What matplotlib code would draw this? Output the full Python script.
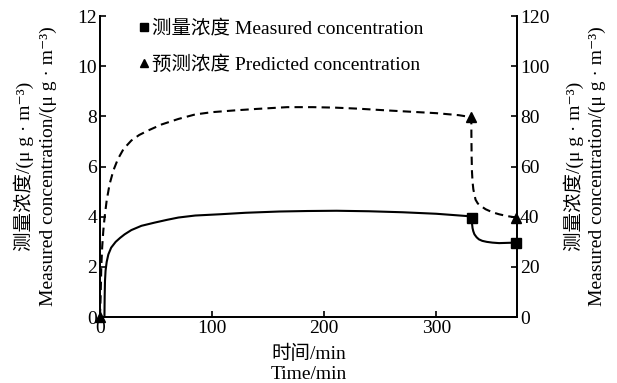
import matplotlib.pyplot as plt
from matplotlib.lines import Line2D

plt.rcParams['font.family'] = ['Liberation Serif', 'Noto Sans CJK SC', 'DejaVu Serif']

# measured concentration (left axis, ug/m3)
time_measured = [0, 4, 4.2, 4.5, 5, 6, 7.5, 10, 14, 18, 22, 28, 37, 49, 60, 70, 85, 107,
                 130, 160, 185, 211, 240, 270, 300, 327, 331.5, 331.8, 332.3, 333, 334,
                 336, 338, 341, 345, 350, 356, 363, 371]
conc_measured = [0, 0, 0.8, 1.45, 1.85, 2.2, 2.5, 2.77, 3.0, 3.16, 3.3, 3.47, 3.64, 3.77,
                 3.88, 3.97, 4.05, 4.1, 4.16, 4.21, 4.23, 4.24, 4.22, 4.18, 4.12, 4.03,
                 3.97, 3.75, 3.55, 3.42, 3.3, 3.18, 3.1, 3.04, 3.0, 2.97, 2.95, 2.96, 2.97]
marker_time_measured = [331.5, 371]
marker_conc_measured = [3.97, 2.97]

# predicted concentration (right axis, ug/m3)
time_predicted = [0, 0.6, 1.2, 2, 3, 4.2, 6, 8.6, 12, 16, 21, 28, 35, 43, 55, 70, 85, 100,
                  120, 140, 167, 190, 210, 230, 256, 280, 300, 320, 331.2, 331.3, 331.5,
                  331.8, 332.3, 333, 334, 335, 337, 340, 344, 350, 356, 363, 371]
conc_predicted = [0, 8, 20, 28, 34.5, 40, 46.5, 53, 58.5, 63, 67, 70.4, 72.6, 74.4, 76.8,
                  79, 80.8, 81.7, 82.4, 83.0, 83.7, 83.7, 83.5, 83.1, 82.4, 81.8, 81.3,
                  80.5, 79.7, 72, 64, 58, 54, 51, 48.8, 46.8, 45.3, 44.2, 43, 41.8, 41,
                  40.3, 39.7]
marker_time_predicted = [0, 331.2, 371]
marker_conc_predicted = [0, 79.7, 39.7]

ylabel = ('测量浓度/(μ g · m⁻³)\n'
          'Measured concentration/(μ g · m⁻³)')

fig = plt.figure(figsize=(6.17, 3.83), dpi=100)
ax = fig.add_axes([0.162, 0.172, 0.676, 0.786])
ax2 = ax.twinx()

ax.plot(time_measured, conc_measured, color='black', linewidth=1.5)
ax.plot(marker_time_measured, marker_conc_measured, 's', color='black', markersize=7, clip_on=False)
ax2.plot(time_predicted, conc_predicted, color='black', linewidth=1.5, linestyle=(0, (4, 2.5)))
ax2.plot(marker_time_predicted, marker_conc_predicted, '^', color='black', markersize=7, clip_on=False)

ax.set_xlim(0, 372)
ax.set_ylim(0, 12)
ax2.set_ylim(0, 120)
ax.set_xticks([0, 100, 200, 300])
ax.set_yticks(range(0, 13, 2))
ax2.set_yticks(range(0, 121, 20))

for a in (ax, ax2):
    a.spines['top'].set_visible(False)
    for s in a.spines.values():
        s.set_linewidth(1.3)
    a.tick_params(direction='in', length=4, width=1.2, labelsize=14, pad=2)

ax.set_xlabel('时间/min\nTime/min', fontsize=14, labelpad=6, linespacing=1.2)
ax.set_ylabel(ylabel, fontsize=14, labelpad=15, linespacing=1.4)
ax2.set_ylabel(ylabel, fontsize=14, labelpad=10, linespacing=1.4)

handles = [Line2D([], [], marker='s', color='black', linestyle='none', markersize=6),
           Line2D([], [], marker='^', color='black', linestyle='none', markersize=6)]
ax.legend(handles, ['测量浓度 Measured concentration', '预测浓度 Predicted concentration'],
          loc='upper left', bbox_to_anchor=(0.073, 1.013), frameon=False, fontsize=14,
          handlelength=0.6, handletextpad=0.1, labelspacing=0.91, borderaxespad=0)

fig.savefig('out.png', dpi=100)
